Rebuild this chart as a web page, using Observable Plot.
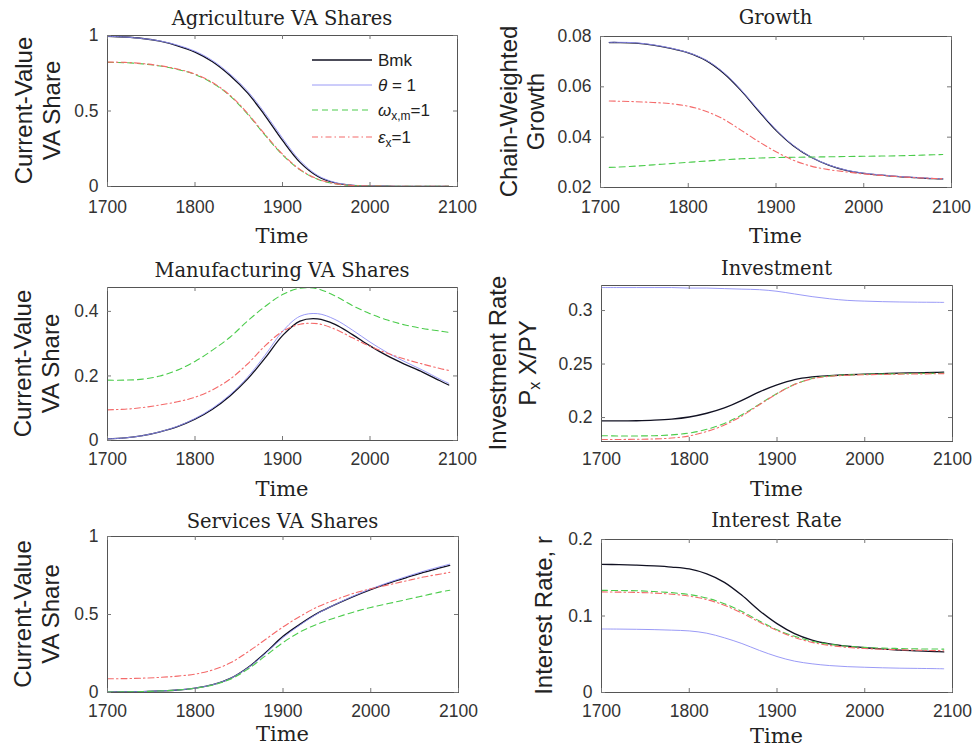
<!DOCTYPE html>
<html><head><meta charset="utf-8">
<script src="https://cdn.jsdelivr.net/npm/d3@7"></script>
<script src="https://cdn.jsdelivr.net/npm/@observablehq/plot@0.6"></script>
<style>
html,body{margin:0;padding:0;background:#fff;}
#chart{position:relative;width:976px;height:751px;overflow:hidden;background:#fff;}
#chart > svg{position:absolute;}
</style></head><body><div id="chart"></div>
<script>
// ---- data ----
const years = [1700,1720,1740,1760,1780,1800,1820,1840,1860,1880,1900,1920,1940,1960,1980,2000,2020,2040,2060,2080,2090];
const growthYears = [1710,1720,1740,1760,1780,1800,1820,1840,1860,1880,1900,1920,1940,1960,1980,2000,2020,2040,2060,2080,2090];
const xTicks = [1700,1800,1900,2000,2100];
const seriesKeys = ["Bmk","theta","omega","eps"];

const agBmk   = [0.995,0.99,0.98,0.962,0.932,0.89,0.826,0.735,0.62,0.47,0.305,0.16,0.068,0.024,0.008,0.003,0.002,0.001,0.001,0.001,0.001];
const agTheta = [0.995,0.99,0.98,0.964,0.936,0.896,0.834,0.745,0.632,0.485,0.32,0.172,0.074,0.027,0.009,0.003,0.002,0.001,0.001,0.001,0.001];
const agOmega = [0.822,0.82,0.812,0.798,0.775,0.742,0.685,0.6,0.48,0.34,0.21,0.11,0.048,0.018,0.007,0.003,0.002,0.001,0.001,0.001,0.001];
const agEps   = [0.824,0.822,0.814,0.8,0.778,0.745,0.689,0.604,0.485,0.345,0.214,0.113,0.05,0.019,0.007,0.003,0.002,0.001,0.001,0.001,0.001];
const agTicks = [0,0.5,1];

const grBmk   = [0.0776,0.0776,0.0774,0.0766,0.0753,0.0735,0.0705,0.0655,0.0586,0.0505,0.0427,0.0365,0.032,0.0289,0.0268,0.0256,0.0249,0.0243,0.0239,0.0235,0.0234];
const grTheta = [0.0777,0.0777,0.0775,0.0767,0.0754,0.0736,0.0707,0.0658,0.0589,0.0508,0.043,0.0367,0.0321,0.029,0.0269,0.0257,0.025,0.0244,0.024,0.0236,0.0235];
const grOmega = [0.028,0.0281,0.0285,0.029,0.0295,0.03,0.0305,0.031,0.0314,0.0317,0.0319,0.032,0.0321,0.0322,0.0323,0.0324,0.0325,0.0326,0.0328,0.033,0.0331];
const grEps   = [0.0544,0.0543,0.0541,0.0538,0.0533,0.0523,0.0503,0.0472,0.0428,0.0383,0.0342,0.0308,0.0285,0.0271,0.0262,0.0254,0.0248,0.0243,0.0239,0.0236,0.0235];
const grTicks = [0.02,0.04,0.06,0.08];

const mfBmk   = [0.005,0.008,0.015,0.027,0.043,0.066,0.097,0.138,0.19,0.255,0.325,0.37,0.377,0.36,0.328,0.293,0.262,0.236,0.212,0.185,0.172];
const mfTheta = [0.005,0.008,0.015,0.027,0.044,0.068,0.1,0.142,0.196,0.264,0.338,0.385,0.393,0.375,0.342,0.305,0.272,0.244,0.218,0.19,0.177];
const mfOmega = [0.187,0.187,0.19,0.2,0.218,0.245,0.28,0.32,0.37,0.415,0.452,0.472,0.47,0.448,0.418,0.393,0.373,0.358,0.347,0.339,0.335];
const mfEps   = [0.095,0.097,0.102,0.11,0.12,0.134,0.157,0.19,0.237,0.293,0.338,0.36,0.362,0.345,0.318,0.292,0.27,0.252,0.237,0.223,0.217];
const mfTicks = [0,0.2,0.4];

const ivBmk   = [0.1968,0.1968,0.197,0.1975,0.1985,0.2005,0.204,0.209,0.216,0.224,0.2305,0.2355,0.238,0.2392,0.24,0.2405,0.241,0.2415,0.2418,0.2422,0.2425];
const ivTheta = [0.3215,0.3215,0.3215,0.3215,0.3215,0.321,0.321,0.3205,0.32,0.3195,0.318,0.3155,0.313,0.311,0.3095,0.3088,0.3083,0.308,0.3078,0.3077,0.3076];
const ivOmega = [0.183,0.1828,0.1828,0.183,0.1838,0.1855,0.189,0.1945,0.2025,0.2125,0.2225,0.231,0.2365,0.2388,0.2398,0.2403,0.2407,0.241,0.2412,0.2413,0.2414];
const ivEps   = [0.1795,0.1795,0.1797,0.18,0.1808,0.1828,0.187,0.193,0.2015,0.212,0.2222,0.2308,0.2362,0.2385,0.2395,0.24,0.2403,0.2406,0.2408,0.2409,0.241];
const ivTicks = [0.2,0.25,0.3];

const svBmk   = [0.003,0.004,0.006,0.01,0.016,0.028,0.05,0.09,0.16,0.255,0.36,0.44,0.51,0.565,0.615,0.66,0.7,0.735,0.77,0.8,0.815];
const svTheta = [0.003,0.004,0.006,0.01,0.016,0.028,0.05,0.09,0.158,0.25,0.352,0.435,0.508,0.566,0.618,0.664,0.705,0.742,0.777,0.808,0.823];
const svOmega = [0.003,0.004,0.006,0.01,0.016,0.027,0.048,0.085,0.15,0.235,0.32,0.39,0.44,0.48,0.515,0.545,0.57,0.595,0.62,0.645,0.655];
const svEps   = [0.088,0.089,0.092,0.097,0.105,0.118,0.145,0.19,0.26,0.34,0.42,0.49,0.55,0.595,0.635,0.665,0.69,0.715,0.74,0.76,0.77];
const svTicks = [0,0.5,1];

const irBmk   = [0.1675,0.1672,0.1665,0.1655,0.164,0.1615,0.155,0.144,0.127,0.107,0.09,0.077,0.0685,0.0635,0.0605,0.0585,0.057,0.0555,0.0545,0.0535,0.053];
const irTheta = [0.083,0.0829,0.0826,0.0822,0.0815,0.0805,0.0775,0.0715,0.064,0.055,0.047,0.041,0.0375,0.0352,0.0338,0.033,0.0323,0.0318,0.0315,0.0312,0.031];
const irOmega = [0.1335,0.1333,0.133,0.132,0.1305,0.128,0.1235,0.116,0.106,0.0935,0.082,0.0735,0.067,0.063,0.0605,0.059,0.058,0.0575,0.057,0.0568,0.0567];
const irEps   = [0.1315,0.1312,0.1308,0.13,0.1285,0.126,0.1215,0.114,0.104,0.092,0.081,0.072,0.0655,0.0615,0.059,0.0575,0.0565,0.0558,0.0552,0.0548,0.0546];
const irTicks = [0,0.1,0.2];

// ---- styles ----
const lineStyle = {
  Bmk:   {stroke:"#111122", strokeWidth:1.3, dash:null},
  theta: {stroke:"#8f8ff5", strokeWidth:0.9, dash:null},
  omega: {stroke:"#4ccc4c", strokeWidth:1.1, dash:"6,4"},
  eps:   {stroke:"#f46a6a", strokeWidth:1.1, dash:"6,3,1.5,3"}
};

const panels = [
  {title:"Agriculture VA Shares", ylab:["Current-Value","VA Share"], ylx:[23,51], domain:[0,1], ticks:agTicks, yrs:years, data:[agBmk,agTheta,agOmega,agEps], fx:107, fy:35, fw:350, fh:151, ty:18, tiy:236, xpad:20},
  {title:"Growth", ylab:["Chain-Weighted","Growth"], ylx:[508,535], domain:[0.02,0.08], ticks:grTicks, yrs:growthYears, data:[grBmk,grTheta,grOmega,grEps], fx:600, fy:36, fw:351, fh:151, ty:17, tiy:236, xpad:19},
  {title:"Manufacturing VA Shares", ylab:["Current-Value","VA Share"], ylx:[22,50], domain:[0,0.474], ticks:mfTicks, yrs:years, data:[mfBmk,mfTheta,mfOmega,mfEps], fx:107, fy:287, fw:350, fh:153, ty:270, tiy:489, xpad:18},
  {title:"Investment", ylab:["Investment Rate","PX"], ylx:[497,527], domain:[0.1776,0.3234], ticks:ivTicks, yrs:years, data:[ivBmk,ivTheta,ivOmega,ivEps], fx:601, fy:285, fw:351, fh:156, ty:268, tiy:489, xpad:17},
  {title:"Services VA Shares", ylab:["Current-Value","VA Share"], ylx:[22,50], domain:[0,1], ticks:svTicks, yrs:years, data:[svBmk,svTheta,svOmega,svEps], fx:107, fy:536, fw:351, fh:156, ty:521, tiy:734, xpad:18},
  {title:"Interest Rate", ylab:["Interest Rate, r"], ylx:[543], domain:[0,0.2], ticks:irTicks, yrs:years, data:[irBmk,irTheta,irOmega,irEps], fx:601, fy:539, fw:351, fh:153, ty:520, tiy:736, xpad:18}
];

const chart = document.getElementById("chart");
const ML = 70, MR = 25, MT = 6, MB = 34;

panels.forEach(p => {
  const rows = [];
  p.data.forEach((vals, si) => vals.forEach((v, i) => rows.push({t: p.yrs[i], v, s: seriesKeys[si]})));
  const lineMarks = seriesKeys.map(k => Plot.line(rows.filter(r => r.s === k), {
    x: "t", y: "v", stroke: lineStyle[k].stroke, strokeWidth: lineStyle[k].strokeWidth,
    strokeDasharray: lineStyle[k].dash, curve: "catmull-rom", clip: true
  }));
  const svg = Plot.plot({
    width: p.fw + ML + MR, height: p.fh + MT + MB,
    marginLeft: ML, marginRight: MR, marginTop: MT, marginBottom: MB,
    x: {domain: [1700, 2100], label: null},
    y: {domain: p.domain, label: null},
    style: {fontFamily: "'Liberation Sans', Arial, sans-serif", fontSize: "17.5px", color: "#333", background: "transparent", overflow: "visible"},
    marks: [
      ...lineMarks,
      Plot.frame({stroke: "#555", strokeWidth: 1}),
      Plot.ruleX(xTicks, {x: d => d, stroke: "#777", insetTop: p.fh - 4}),
      Plot.ruleX(xTicks, {x: d => d, stroke: "#777", insetBottom: p.fh - 4}),
      Plot.ruleY(p.ticks, {y: d => d, stroke: "#777", insetRight: p.fw - 4}),
      Plot.ruleY(p.ticks, {y: d => d, stroke: "#777", insetLeft: p.fw - 4}),
      Plot.axisX({ticks: xTicks, tickSize: 0, tickPadding: p.xpad - 6, tickFormat: d => String(d), label: null, fontSize: 17.5}),
      Plot.axisY({ticks: p.ticks, tickSize: 0, tickPadding: 9, tickFormat: d => String(d), label: null, fontSize: 17.5})
    ]
  });
  svg.style.left = (p.fx - ML) + "px";
  svg.style.top = (p.fy - MT) + "px";
  svg.style.maxWidth = "none";
  chart.appendChild(svg);
});

// ---- overlay text: titles, axis labels, legend ----
const ov = d3.select(chart).append("svg")
  .attr("width", 976).attr("height", 751)
  .style("left", "0px").style("top", "0px").style("pointer-events", "none");

panels.forEach(p => {
  const cx = p.fx + p.fw / 2, cy = p.fy + p.fh / 2;
  ov.append("text").attr("x", cx).attr("y", p.ty)
    .attr("text-anchor", "middle").attr("dominant-baseline", "central")
    .attr("font-family", "'DejaVu Serif', serif").attr("font-size", 19.5).attr("fill", "#222")
    .text(p.title);
  ov.append("text").attr("x", cx).attr("y", p.tiy)
    .attr("text-anchor", "middle").attr("dominant-baseline", "central")
    .attr("font-family", "'DejaVu Serif', serif").attr("font-size", 21).attr("fill", "#222")
    .text("Time");
  p.ylab.forEach((lab, i) => {
    const t = ov.append("text")
      .attr("transform", `translate(${p.ylx[i]},${cy}) rotate(-90)`)
      .attr("text-anchor", "middle").attr("dominant-baseline", "central")
      .attr("font-family", "'Liberation Sans', Arial, sans-serif").attr("font-size", 24).attr("fill", "#222");
    if (lab === "PX") {
      t.append("tspan").text("P");
      t.append("tspan").attr("dy", 7).attr("font-size", 16).text("x");
      t.append("tspan").attr("dy", -7).text(" X/PY");
    } else {
      t.text(lab);
    }
  });
});

// legend (inside agriculture panel)
const legendRows = [
  {k: "Bmk", y: 60}, {k: "theta", y: 85}, {k: "omega", y: 110}, {k: "eps", y: 137}
];
legendRows.forEach(r => {
  const s = lineStyle[r.k];
  ov.append("line").attr("x1", 312).attr("x2", 372).attr("y1", r.y).attr("y2", r.y)
    .attr("stroke", s.stroke).attr("stroke-width", s.strokeWidth)
    .attr("stroke-dasharray", s.dash);
  const t = ov.append("text").attr("x", 378).attr("y", r.y).attr("dominant-baseline", "central")
    .attr("font-family", "'Liberation Sans', Arial, sans-serif").attr("font-size", 17).attr("fill", "#222");
  if (r.k === "Bmk") t.text("Bmk");
  else if (r.k === "theta") { t.append("tspan").attr("font-style", "italic").text("θ"); t.append("tspan").text(" = 1"); }
  else if (r.k === "omega") {
    t.append("tspan").attr("font-style", "italic").text("ω");
    t.append("tspan").attr("dy", 6).attr("font-size", 12).text("x,m");
    t.append("tspan").attr("dy", -6).text("=1");
  } else {
    t.append("tspan").attr("font-style", "italic").text("ε");
    t.append("tspan").attr("dy", 6).attr("font-size", 12).text("x");
    t.append("tspan").attr("dy", -6).text("=1");
  }
});
</script></body></html>
